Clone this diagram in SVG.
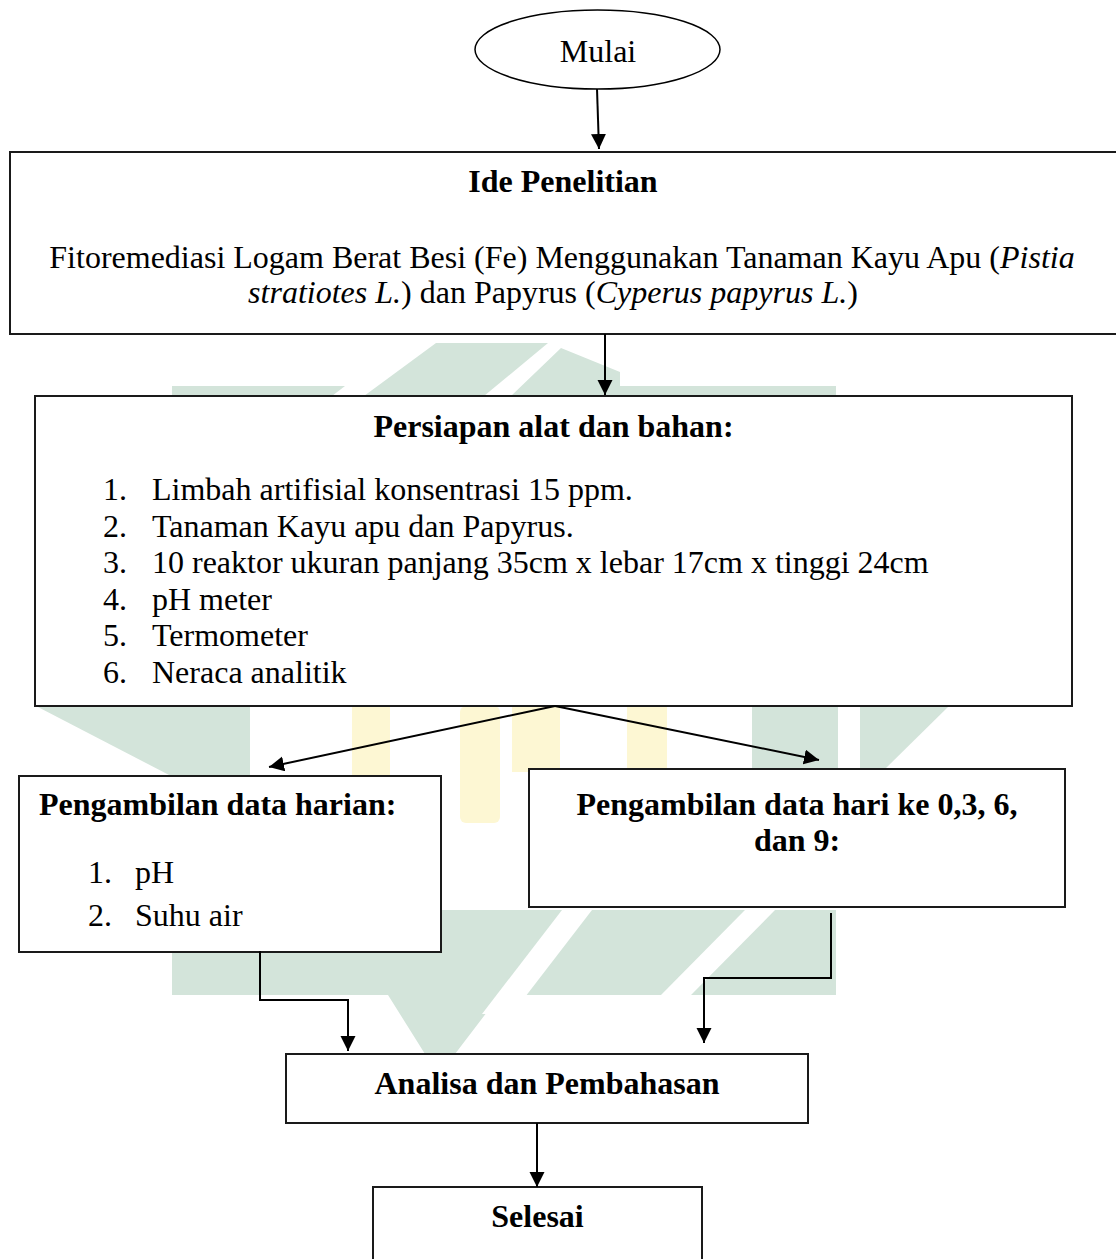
<svg xmlns="http://www.w3.org/2000/svg" width="1116" height="1259" viewBox="0 0 1116 1259">
<style>
.box{fill:#fff;stroke:#1a1a1a;stroke-width:2}
.t{font-family:"Liberation Serif","Times New Roman",serif;font-size:32px;fill:#000}
.b{font-weight:bold}
.i{font-style:italic}
.c{text-anchor:middle}
.ln{fill:none;stroke:#000;stroke-width:2}
.wg{fill:#d3e4da}
.wy{fill:#fdf7d3}
.ww{fill:#fff}
</style>
<defs>
<marker id="ah" markerUnits="userSpaceOnUse" markerWidth="16" markerHeight="16" refX="15" refY="7.5" orient="auto">
<path d="M0,0 L15,7.5 L0,15 z" fill="#000"/>
</marker>
</defs>
<rect x="0" y="0" width="1116" height="1259" fill="#fff"/>
<g id="watermark">
<polygon class="wg" points="172,386 345,386 332,396 172,396"/>
<polygon class="wg" points="364,396 436,343 548,343 484,396"/>
<polygon class="wg" points="511,396 561,348 620,372 620,386 836,386 836,396"/>
<polygon class="wg" points="36,706 250,706 250,776 171,776"/>
<rect class="wy" x="352" y="706" width="38" height="70"/>
<rect class="wy" x="460" y="706" width="40" height="117" rx="6"/>
<rect class="wy" x="512" y="706" width="48" height="66"/>
<rect class="wy" x="627" y="706" width="40" height="63"/>
<polygon class="wg" points="752,706 838,706 838,769 752,769"/>
<polygon class="wg" points="860,706 949,706 885,769 860,769"/>
<polygon class="wg" points="172,910 836,910 836,995 500,995 455,1054 425,1054 388,995 172,995"/>
<polygon class="ww" points="562,910 592,910 512,1014 482,1014"/>
<polygon class="ww" points="745,910 775,910 690,996 660,996"/>
</g>
<g id="n-mulai">
<ellipse cx="597.5" cy="49.5" rx="122.5" ry="39.5" fill="#fff" stroke="#000" stroke-width="1.5"/>
<text class="t c" x="598" y="62">Mulai</text>
</g>
<g id="n-ide">
<rect class="box" x="10" y="152" width="1112" height="182"/>
<text class="t b c" x="563" y="192">Ide Penelitian</text>
<text class="t c" x="562" y="268">Fitoremediasi Logam Berat Besi (Fe) Menggunakan Tanaman Kayu Apu (<tspan class="i">Pistia</tspan></text>
<text class="t c" x="553" y="303"><tspan class="i">stratiotes L.</tspan>) dan Papyrus (<tspan class="i">Cyperus papyrus L.</tspan>)</text>
</g>
<g id="n-persiapan">
<rect class="box" x="35" y="396" width="1037" height="310"/>
<text class="t b c" x="553.5" y="437">Persiapan alat dan bahan:</text>
<text class="t" x="103" y="500">1.</text><text class="t" x="152" y="500">Limbah artifisial konsentrasi 15 ppm.</text>
<text class="t" x="103" y="536.6">2.</text><text class="t" x="152" y="536.6">Tanaman Kayu apu dan Papyrus.</text>
<text class="t" x="103" y="573.2">3.</text><text class="t" x="152" y="573.2">10 reaktor ukuran panjang 35cm x lebar 17cm x tinggi 24cm</text>
<text class="t" x="103" y="609.8">4.</text><text class="t" x="152" y="609.8">pH meter</text>
<text class="t" x="103" y="646.4">5.</text><text class="t" x="152" y="646.4">Termometer</text>
<text class="t" x="103" y="683">6.</text><text class="t" x="152" y="683">Neraca analitik</text>
</g>
<g id="n-harian">
<rect class="box" x="19" y="776" width="422" height="176"/>
<text class="t b" x="39" y="815">Pengambilan data harian:</text>
<text class="t" x="88" y="883">1.</text><text class="t" x="135" y="883">pH</text>
<text class="t" x="88" y="926">2.</text><text class="t" x="135" y="926">Suhu air</text>
</g>
<g id="n-hari">
<rect class="box" x="529" y="769" width="536" height="138"/>
<text class="t b c" x="797" y="815">Pengambilan data hari ke 0,3, 6,</text>
<text class="t b c" x="797" y="851">dan 9:</text>
</g>
<g id="n-analisa">
<rect class="box" x="286" y="1054" width="522" height="69"/>
<text class="t b c" x="547" y="1094">Analisa dan Pembahasan</text>
</g>
<g id="n-selesai">
<rect class="box" x="373" y="1187" width="329" height="90"/>
<text class="t b c" x="537.5" y="1227">Selesai</text>
</g>
<g id="connectors">
<line class="ln" x1="597" y1="89" x2="599" y2="149" marker-end="url(#ah)"/>
<line class="ln" x1="605" y1="334" x2="605" y2="395" marker-end="url(#ah)"/>
<line class="ln" x1="555" y1="706" x2="269" y2="767" marker-end="url(#ah)"/>
<line class="ln" x1="555" y1="706" x2="819" y2="760" marker-end="url(#ah)"/>
<polyline class="ln" points="260,951 260,1000 348,1000 348,1051" marker-end="url(#ah)"/>
<polyline class="ln" points="831,913 831,978 704,978 704,1043" marker-end="url(#ah)"/>
<line class="ln" x1="537" y1="1123" x2="537" y2="1187" marker-end="url(#ah)"/>
</g>
</svg>
